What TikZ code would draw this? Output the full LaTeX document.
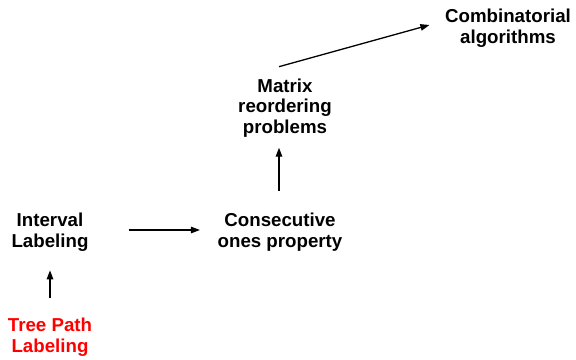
\documentclass[tikz,border=0pt]{standalone}
\usepackage{fontspec}
\setmainfont{Liberation Sans}
\usetikzlibrary{arrows.meta}
\definecolor{pathred}{RGB}{255,0,0}
\tikzset{
  concept/.style={inner sep=0pt, align=center, font=\bfseries\fontsize{18.7}{20.8}\selectfont},
  link/.style={line width=1.3pt, -{Triangle[length=9pt,width=6.5pt]}}
}
\begin{document}
\begin{tikzpicture}[x=1pt,y=-1pt]
  \useasboundingbox (0,0) rectangle (576,359);

  % concepts
  \node[concept] (ca)  at (508,28)  {Combinatorial\\algorithms};
  \node[concept] (mrp) at (285,108) {Matrix\\reordering\\problems};
  \node[concept] (cop) at (280,232) {Consecutive\\ones property};
  \node[concept] (il)  at (50,232)  {Interval\\Labeling};
  \node[concept, text=pathred] (tpl) at (50,337) {Tree Path\\Labeling};

  % dependencies
  \draw[link, shorten <=19.6pt, shorten >=19pt] (tpl.north) -- (il.south);
  \draw[link, shorten <=40pt, shorten >=17.5pt]
    ([yshift=2pt]il.east) -- ([yshift=2pt]cop.west);
  \draw[link, shorten <=22pt, shorten >=10pt]
    ([xshift=-1pt]cop.north) -- ([xshift=-1pt]cop.north |- mrp.south);
  \draw[link] ([xshift=-6pt,yshift=11.6pt]mrp.north) -- ([xshift=-15.5pt,yshift=3pt]ca.west);
\end{tikzpicture}
\end{document}
